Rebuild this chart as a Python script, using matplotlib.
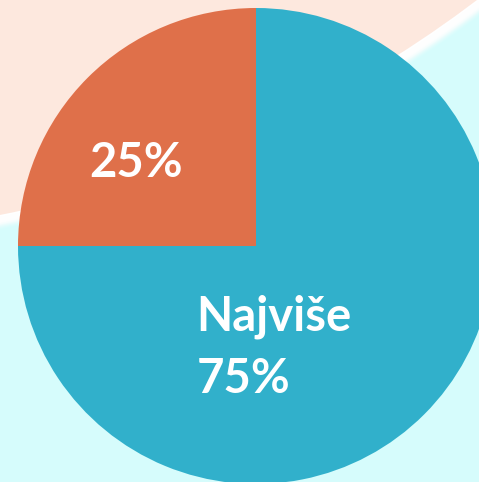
import matplotlib.pyplot as plt
from matplotlib.patches import Circle, Rectangle

# slice data
labels = ["", "Najviše"]
shares = [25, 75]
colors = ["#DF704A", "#31B0CB"]

W, H = 479, 482
fig = plt.figure(figsize=(W / 100, H / 100), dpi=100)

# decorative background: peach disc, white glow band, cyan elsewhere
bg = fig.add_axes([0, 0, 1, 1])
bg.set_xlim(0, W)
bg.set_ylim(H, 0)
bg.axis("off")
bg.add_patch(Rectangle((0, 0), W, H, color="#D6FCFC", zorder=0))
cx, cy, r = -231, -934, 1172
for k, a in zip(range(14, 0, -1), [0.08, 0.12, 0.18, 0.25, 0.35, 0.45, 0.55, 0.65, 0.75, 0.85, 0.9, 0.95, 1, 1]):
    bg.add_patch(Circle((cx, cy), r + k, color="white", alpha=a, lw=0, zorder=1))
bg.add_patch(Circle((cx, cy), r, color="#FDE8DE", lw=0, zorder=2))

# pie, centre at (256, 246) px, radius 238 px
R = 238
ax = fig.add_axes([(256 - R) / W, (H - 246 - R) / H, 2 * R / W, 2 * R / H])
ax.pie(shares, colors=colors, startangle=90, counterclock=True,
       wedgeprops=dict(linewidth=0))
ax.set_xlim(-1, 1)
ax.set_ylim(-1, 1)
ax.axis("off")

font = dict(color="white", fontsize=34, fontweight="bold", family=["Lato", "DejaVu Sans"])
ax.text(-0.70, 0.29, f"{shares[0]}%", ha="left", va="baseline", **font)
ax.text(-0.25, -0.353, labels[1], ha="left", va="baseline", **font)
ax.text(-0.25, -0.618, f"{shares[1]}%", ha="left", va="baseline", **font)

fig.savefig("out.png", dpi=100)
